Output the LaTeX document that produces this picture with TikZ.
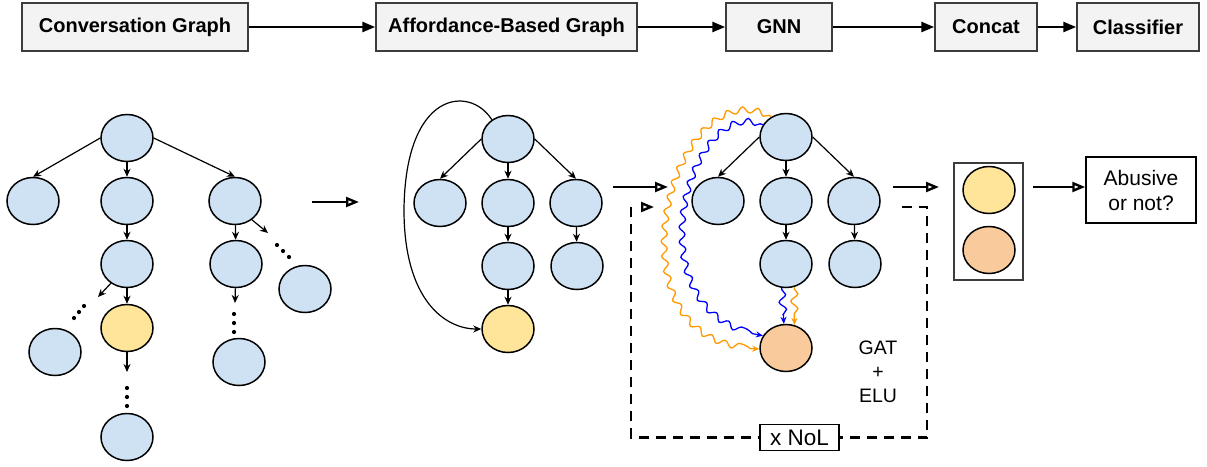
\documentclass[tikz,border=0pt]{standalone}
\usepackage{fontspec}
\setmainfont{Liberation Sans}
\usetikzlibrary{shapes.geometric,arrows.meta,decorations.pathmorphing}
\definecolor{nblue}{HTML}{CFE2F3}
\definecolor{nyellow}{HTML}{FFE599}
\definecolor{norange}{HTML}{F9CB9C}
\definecolor{boxgray}{HTML}{F3F3F3}
\definecolor{boxline}{HTML}{3C3C3C}
\definecolor{wavor}{HTML}{FF9900}
\definecolor{wavbl}{HTML}{0000FF}
\begin{document}
\begin{tikzpicture}[x=1pt,y=-1pt,
  nd/.style={ellipse, draw=black, line width=1.5pt, minimum width=52pt, minimum height=47pt, inner sep=0pt, fill=nblue},
  ylw/.style={nd, fill=nyellow},
  org/.style={nd, fill=norange},
  topbox/.style={draw=boxline, fill=boxgray, line width=1.5pt, minimum height=48pt, inner sep=0pt,
    font=\fontsize{20}{22}\selectfont\bfseries},
  txtbox/.style={draw=black, line width=1.5pt, inner sep=0pt, align=center},
  tarrow/.style={line width=2.6pt, -{Triangle[length=13pt,width=10pt]}},
  earrow/.style={line width=1.2pt, -{Stealth[length=8pt,width=7pt]}},
  oarrow/.style={line width=2.6pt, -{Triangle[open,length=13pt,width=10pt,line width=2.4pt]}},
  dotf/.style={fill=black},
  wave/.style={line width=1.3pt, decorate, decoration={snake, amplitude=3pt, segment length=15pt, pre length=3pt, post length=8pt}, -{Stealth[length=7pt,width=6pt]}},
  swave/.style={wave, decoration={snake, amplitude=3.5pt, segment length=15pt, pre length=2pt, post length=6pt}},
  loopline/.style={line width=2.4pt, dash pattern=on 10pt off 7pt},
]
\useasboundingbox (0,0) rectangle (1207,466);

% ---------- top pipeline ----------
\node[topbox, minimum width=226pt] (t1) at (135,27) {Conversation Graph};
\node[topbox, minimum width=261pt] (t2) at (506.5,27) {Affordance-Based Graph};
\node[topbox, minimum width=106pt] (t3) at (779,27) {GNN};
\node[topbox, minimum width=102pt] (t4) at (986,27) {Concat};
\node[topbox, minimum width=122pt] (t5) at (1138,27) {Classifier};
\draw[tarrow] (t1) -- (t2);
\draw[tarrow] (t2) -- (t3);
\draw[tarrow] (t3) -- (t4);
\draw[tarrow] (t4) -- (t5);

% ---------- left tree ----------
\node[nd] (a0) at (127,138) {};
\node[nd] (a1) at (33,201) {};
\node[nd] (a2) at (127,201) {};
\node[nd] (a3) at (235,201) {};
\node[nd] (a4) at (127,264) {};
\node[nd] (a5) at (236,264) {};
\node[nd] (a6) at (305,289) {};
\node[nd] (a7) at (55,352) {};
\node[ylw] (a8) at (127,328) {};
\node[nd] (a9) at (239,362) {};
\node[nd] (a10) at (127,437) {};
\draw[earrow] (a0.west) -- (a1.north);
\draw[earrow] (a0) -- (a2);
\draw[earrow] (a0.east) -- (a3.north);
\draw[earrow] (a2) -- (a4);
\draw[earrow] (a3) -- (a5);
\draw[earrow] (a4) -- (a8);
\coordinate (a3e) at (268,233);
\draw[earrow] (a3.-48) -- (a3e);
\foreach \p in {(277,245),(283,251),(289,257)} \fill[dotf] \p circle (2.1pt);
\coordinate (a4e) at (98,297);
\draw[earrow] (a4.-130) -- (a4e);
\foreach \p in {(84,306),(79,312),(74,318)} \fill[dotf] \p circle (2.1pt);
\coordinate (a5e) at (235,303);
\draw[earrow] (a5) -- (a5e);
\foreach \p in {(234,314),(234,323),(234,332)} \fill[dotf] \p circle (2.1pt);
\coordinate (a8e) at (127,372);
\draw[earrow] (a8) -- (a8e);
\foreach \p in {(127,388),(127,397),(127,406)} \fill[dotf] \p circle (2.1pt);

% arrow left -> middle
\coordinate (s1) at (312,202);
\coordinate (e1) at (359,202);
\draw[oarrow] (s1) -- (e1);

% ---------- middle graph ----------
\node[nd] (b0) at (508,139) {};
\node[nd] (b1) at (440,203) {};
\node[nd] (b2) at (508,203) {};
\node[nd] (b3) at (576,203) {};
\node[nd] (b4) at (508,266) {};
\node[nd] (b5) at (577,266) {};
\node[ylw] (b6) at (508,329) {};
\draw[earrow] (b0.west) -- (b1.north);
\draw[earrow] (b0) -- (b2);
\draw[earrow] (b0.east) -- (b3.north);
\draw[earrow] (b2) -- (b4);
\draw[earrow] (b3) -- (b5);
\draw[earrow] (b4) -- (b6);
\draw[earrow] (b0.130) .. controls (470,85) and (405,90) .. (404,210)
   .. controls (404,300) and (445,329) .. (b6.west);

% arrow middle -> right
\coordinate (s2) at (613,187);
\coordinate (e2) at (668,187);
\draw[oarrow] (s2) -- (e2);

% ---------- right graph ----------
\node[nd] (c0) at (786,137) {};
\node[nd] (c1) at (718,201) {};
\node[nd] (c2) at (786,201) {};
\node[nd] (c3) at (854,201) {};
\node[nd] (c4) at (786,264) {};
\node[nd] (c5) at (855,264) {};
\node[org] (c6) at (786,348) {};
\draw[earrow] (c0.west) -- (c1.north);
\draw[earrow] (c0) -- (c2);
\draw[earrow] (c0.east) -- (c3.north);
\draw[earrow] (c2) -- (c4);
\draw[earrow] (c3) -- (c5);

% attention waves
\draw[wave, wavor] (c0.125) .. controls (672,70) and (604,350) .. (c6.182);
\draw[wave, wavbl] (c0.152) .. controls (692,98) and (632,314) .. (c6.152);
\draw[swave, wavbl] (c4.-100) -- (c6.95);
\draw[swave, wavor] (c4.-70) -- (c6.70);

\node[align=center, font=\fontsize{19.5}{24}\selectfont] (gat) at (878,372) {GAT\\+\\ELU};

% loop
\node[txtbox, minimum width=79pt, minimum height=26pt, font=\fontsize{22.5}{24}\selectfont] (nol) at (799.5,437.5) {x NoL};
\coordinate (lp1) at (902,207);
\coordinate (lp2) at (927,207);
\coordinate (lp3) at (631,207);
\coordinate (lp4) at (654,207);
\draw[loopline] (lp1) -- (lp2) |- (nol.east);
\draw[loopline] (lp3) |- (nol.west);
\draw[line width=2.4pt, -{Triangle[open,length=13pt,width=10pt,line width=2.4pt]}] (641,207) -- (lp4);

% arrow right -> concat
\coordinate (s3) at (893,187);
\coordinate (e3) at (939,187);
\draw[oarrow] (s3) -- (e3);

% ---------- concat ----------
\node[draw=boxline, line width=1.3pt, minimum width=69pt, minimum height=117pt, inner sep=0pt] (cc) at (988.5,221.5) {};
\node[ylw] (d1) at (989,190) {};
\node[org] (d2) at (989,250) {};

\node[txtbox, minimum width=110pt, minimum height=66pt, font=\fontsize{21}{25}\selectfont] (ab) at (1141,190) {Abusive\\or not?};
\coordinate (s4) at (1033,187);
\draw[oarrow] (s4) -- (ab.west |- s4);
\end{tikzpicture}
\end{document}
